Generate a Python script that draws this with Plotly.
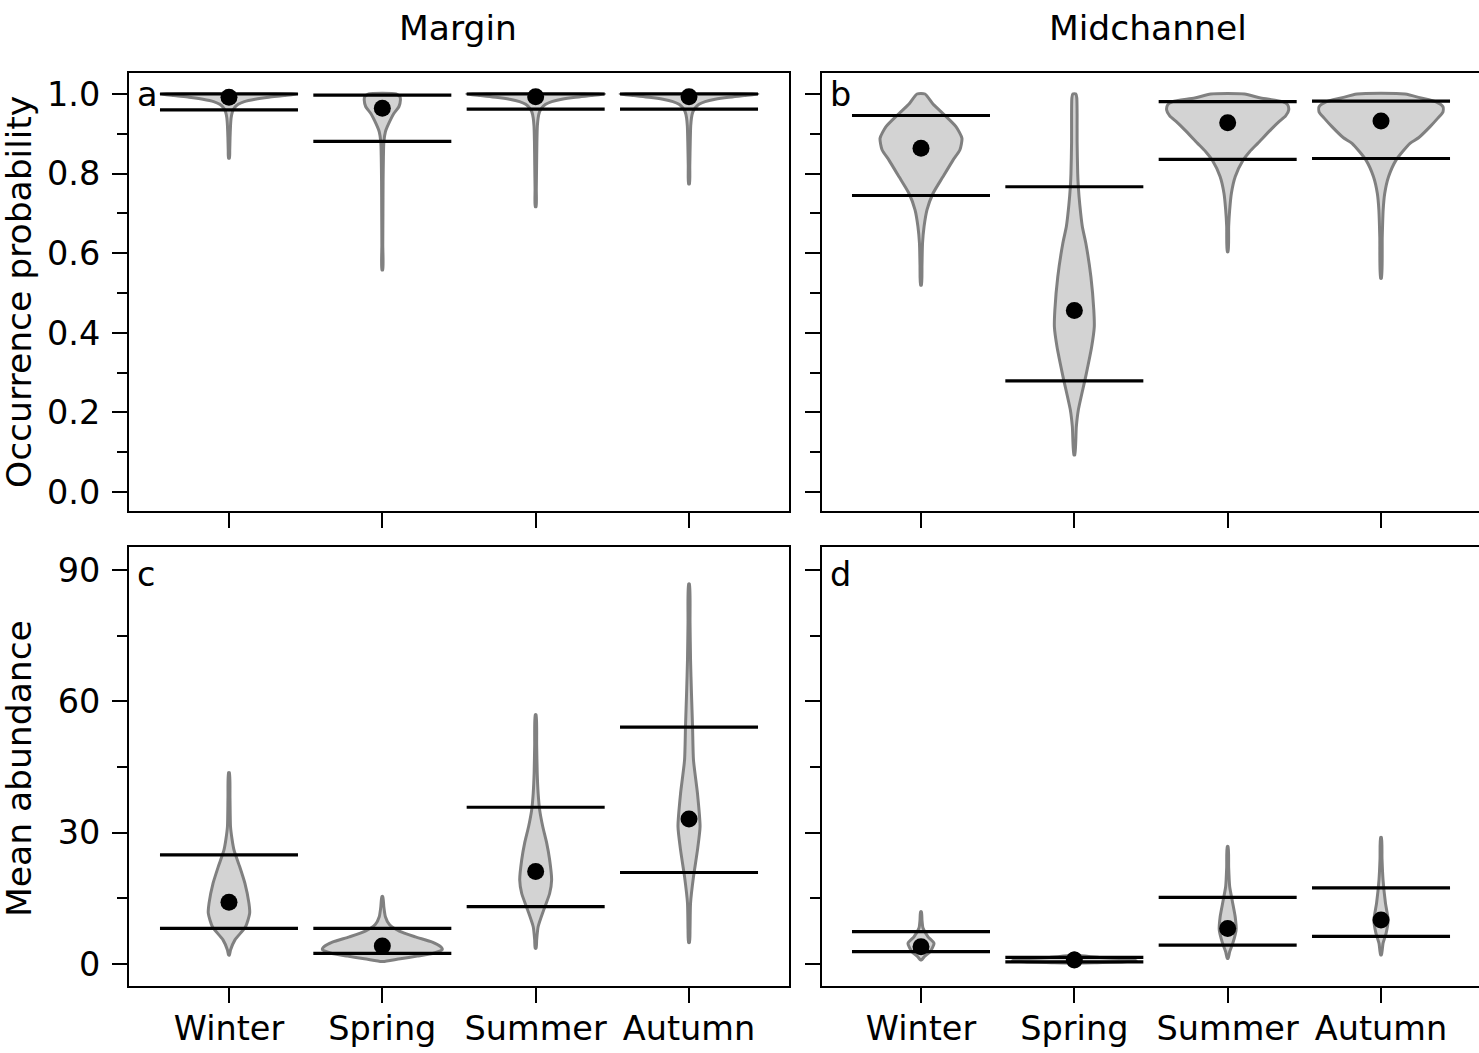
import plotly.graph_objects as go

# ---------------------------------------------------------------------------
# Data
# ---------------------------------------------------------------------------
seasons = ["Winter", "Spring", "Summer", "Autumn"]

# Posterior summaries: mean and 95% interval bounds per season
occ_margin_mean = [0.992, 0.964, 0.993, 0.993]
occ_margin_lo = [0.960, 0.881, 0.962, 0.962]
occ_margin_hi = [1.000, 0.997, 1.000, 1.000]

occ_mid_mean = [0.864, 0.456, 0.928, 0.932]
occ_mid_lo = [0.745, 0.279, 0.836, 0.838]
occ_mid_hi = [0.946, 0.767, 0.981, 0.982]

abu_margin_mean = [14.1, 4.1, 21.1, 33.1]
abu_margin_lo = [8.15, 2.44, 13.1, 20.9]
abu_margin_hi = [24.9, 8.15, 35.8, 54.1]

abu_mid_mean = [3.96, 0.91, 8.1, 10.05]
abu_mid_lo = [2.8, 0.46, 4.3, 6.3]
abu_mid_hi = [7.4, 1.52, 15.2, 17.4]

# Posterior density profiles (value level, scaled half-width) per violin
occ_margin_levels = [
    [1.0, 0.996, 0.992, 0.987, 0.981, 0.974, 0.965, 0.955, 0.94, 0.92, 0.89, 0.86, 0.839],
    [1.0, 0.993, 0.985, 0.968, 0.951, 0.926, 0.905, 0.88, 0.84, 0.78, 0.70, 0.62, 0.558],
    [1.0, 0.996, 0.992, 0.987, 0.981, 0.974, 0.965, 0.955, 0.94, 0.92, 0.88, 0.82, 0.76, 0.717],
    [1.0, 0.996, 0.992, 0.987, 0.981, 0.974, 0.965, 0.955, 0.94, 0.92, 0.88, 0.82, 0.774],
]
occ_margin_widths = [
    [0.443, 0.36, 0.26, 0.17, 0.10, 0.06, 0.035, 0.022, 0.014, 0.010, 0.007, 0.005, 0.003],
    [0.09, 0.115, 0.118, 0.108, 0.075, 0.042, 0.020, 0.010, 0.007, 0.005, 0.004, 0.003, 0.003],
    [0.45, 0.36, 0.26, 0.17, 0.105, 0.065, 0.040, 0.025, 0.016, 0.011, 0.008, 0.006, 0.004, 0.003],
    [0.45, 0.36, 0.26, 0.17, 0.105, 0.065, 0.040, 0.025, 0.016, 0.011, 0.008, 0.005, 0.003],
]

occ_mid_levels = [
    [1.0, 0.975, 0.951, 0.918, 0.889, 0.860, 0.834, 0.792, 0.750, 0.709, 0.667, 0.625, 0.57, 0.52],
    [1.0, 0.99, 0.95, 0.88, 0.80, 0.767, 0.72, 0.667, 0.625, 0.541, 0.457, 0.415, 0.365, 0.29, 0.206, 0.164, 0.093],
    [1.0, 0.99, 0.981, 0.973, 0.96, 0.945, 0.93, 0.91, 0.876, 0.855, 0.834, 0.792, 0.75, 0.709, 0.667, 0.604],
    [1.0, 0.99, 0.98, 0.968, 0.955, 0.94, 0.918, 0.89, 0.876, 0.834, 0.792, 0.75, 0.709, 0.64, 0.537],
]
occ_mid_widths = [
    [0.026, 0.078, 0.143, 0.228, 0.267, 0.254, 0.209, 0.143, 0.078, 0.039, 0.020, 0.010, 0.0065, 0.003],
    [0.010, 0.016, 0.018, 0.018, 0.022, 0.026, 0.036, 0.052, 0.075, 0.108, 0.127, 0.130, 0.113, 0.074, 0.026, 0.013, 0.003],
    [0.11, 0.215, 0.359, 0.391, 0.398, 0.378, 0.333, 0.28, 0.196, 0.143, 0.101, 0.049, 0.024, 0.013, 0.0065, 0.003],
    [0.156, 0.26, 0.359, 0.404, 0.404, 0.372, 0.32, 0.245, 0.189, 0.098, 0.049, 0.024, 0.014, 0.008, 0.003],
]

abu_margin_levels = [
    [43.7, 38.0, 31.4, 28.5, 26.0, 22.2, 18.4, 13.9, 11.6, 8.5, 5.5, 3.2, 2.06],
    [15.4, 13.0, 10.8, 9.0, 7.5, 6.2, 5.0, 4.0, 3.3, 2.5, 1.8, 1.2, 0.55],
    [56.9, 50.0, 43.6, 39.0, 35.2, 31.4, 27.6, 23.8, 19.2, 16.1, 12.3, 8.5, 5.5, 3.6],
    [86.8, 78.0, 69.4, 61.8, 54.2, 46.6, 39.0, 31.4, 26.0, 19.9, 13.9, 8.0, 4.9],
]
abu_margin_widths = [
    [0.003, 0.0065, 0.010, 0.020, 0.033, 0.070, 0.104, 0.130, 0.135, 0.108, 0.039, 0.010, 0.003],
    [0.003, 0.010, 0.020, 0.046, 0.111, 0.215, 0.326, 0.378, 0.391, 0.339, 0.228, 0.117, 0.0065],
    [0.003, 0.0065, 0.010, 0.016, 0.026, 0.046, 0.072, 0.091, 0.104, 0.091, 0.052, 0.016, 0.0065, 0.003],
    [0.003, 0.0065, 0.010, 0.016, 0.023, 0.029, 0.055, 0.072, 0.055, 0.029, 0.010, 0.0065, 0.003],
]

abu_mid_levels = [
    [11.9, 10.0, 8.2, 6.2, 4.7, 2.8, 1.7, 0.91],
    [2.6, 2.0, 1.5, 1.1, 0.8, 0.5, 0.3, 0.15],
    [26.8, 22.0, 17.7, 14.6, 10.8, 7.8, 4.7, 2.8, 1.3],
    [28.9, 24.0, 19.3, 13.9, 10.05, 7.0, 4.7, 2.1],
]
abu_mid_widths = [
    [0.003, 0.0065, 0.013, 0.046, 0.085, 0.059, 0.023, 0.003],
    [0.003, 0.033, 0.163, 0.359, 0.404, 0.326, 0.130, 0.0065],
    [0.003, 0.0065, 0.013, 0.029, 0.049, 0.055, 0.033, 0.013, 0.003],
    [0.003, 0.0065, 0.013, 0.029, 0.046, 0.033, 0.013, 0.003],
]

# ---------------------------------------------------------------------------
# Figure layout (pixel geometry of the 2x2 panel grid)
# ---------------------------------------------------------------------------
W, H = 1479, 1053
FONT = "DejaVu Sans"
TICK_FS = 33.5
TITLE_FS = 34.5
VIOLIN_FILL = "#d3d3d3"
VIOLIN_EDGE = "#808080"
CI_HALF = 0.45

def px_x(p):
    return p / W

def px_y(p):
    return 1 - p / H

fig = go.Figure()

panels = [
    # (xaxis id, yaxis id, levels, widths, mean, lo, hi)
    ("x", "y", occ_margin_levels, occ_margin_widths, occ_margin_mean, occ_margin_lo, occ_margin_hi),
    ("x2", "y2", occ_mid_levels, occ_mid_widths, occ_mid_mean, occ_mid_lo, occ_mid_hi),
    ("x3", "y3", abu_margin_levels, abu_margin_widths, abu_margin_mean, abu_margin_lo, abu_margin_hi),
    ("x4", "y4", abu_mid_levels, abu_mid_widths, abu_mid_mean, abu_mid_lo, abu_mid_hi),
]

for xa, ya, levels, widths, mean, lo, hi in panels:
    # violins
    for i in range(len(seasons)):
        lv = levels[i]
        hw = widths[i]
        xs = [i + w for w in hw] + [i - w for w in reversed(hw)] + [i + hw[0]]
        ys = list(lv) + list(reversed(lv)) + [lv[0]]
        fig.add_trace(go.Scatter(
            x=xs, y=ys, xaxis=xa, yaxis=ya, mode="lines",
            line=dict(color=VIOLIN_EDGE, width=3, shape="spline", smoothing=0.6),
            fill="toself", fillcolor=VIOLIN_FILL, hoverinfo="skip", showlegend=False,
        ))
    # interval bounds
    for i in range(len(seasons)):
        for bound in (lo[i], hi[i]):
            fig.add_trace(go.Scatter(
                x=[i - CI_HALF, i + CI_HALF], y=[bound, bound], xaxis=xa, yaxis=ya,
                mode="lines", line=dict(color="black", width=3.2),
                hoverinfo="skip", showlegend=False,
            ))
    # posterior means
    fig.add_trace(go.Scatter(
        x=list(range(len(seasons))), y=mean, xaxis=xa, yaxis=ya, mode="markers",
        marker=dict(color="black", size=17, line=dict(width=0)),
        showlegend=False,
    ))

left_dom = [px_x(129), px_x(789)]
right_dom = [px_x(822), 1.0]
top_dom = [px_y(511), px_y(73)]
bot_dom = [px_y(986), px_y(547)]

common_axis = dict(
    showline=True, linecolor="black", linewidth=2,
    showgrid=False, zeroline=False,
    ticks="outside", ticklen=15, tickwidth=2, tickcolor="black",
    tickfont=dict(family=FONT, size=TICK_FS, color="black"),
)

def xaxis(domain, rng, anchor, labels, mirror=True):
    return dict(
        common_axis, domain=domain, range=rng, anchor=anchor, mirror=mirror,
        tickmode="array", tickvals=list(range(len(seasons))), ticktext=seasons,
        showticklabels=labels, ticklabelstandoff=-3,
    )

def yaxis(domain, rng, anchor, dtick, minor_dtick, fmt, labels, mirror):
    return dict(
        common_axis, domain=domain, range=rng, anchor=anchor, mirror=mirror,
        tick0=0, dtick=dtick, tickformat=fmt, showticklabels=labels,
        ticklabelstandoff=5,
        minor=dict(ticks="outside", ticklen=10, tickwidth=2, tickcolor="black",
                   dtick=minor_dtick, tick0=0, showgrid=False),
    )

occ_range = [-0.0477, 1.0528]
abu_range = [-5.03, 95.25]
left_xrange = [-0.652, 3.652]
right_xrange = [-0.6456, 3.639]

fig.update_layout(
    width=W, height=H,
    margin=dict(l=0, r=0, t=0, b=0, pad=0),
    paper_bgcolor="white", plot_bgcolor="white",
    font=dict(family=FONT, size=TICK_FS, color="black"),
    xaxis=xaxis(left_dom, left_xrange, "y", False),
    xaxis2=xaxis(right_dom, right_xrange, "y2", False),
    xaxis3=xaxis(left_dom, left_xrange, "y3", True),
    xaxis4=xaxis(right_dom, right_xrange, "y4", True),
    yaxis=yaxis(top_dom, occ_range, "x", 0.2, 0.1, ".1f", True, True),
    yaxis2=yaxis(top_dom, occ_range, "x2", 0.2, 0.1, ".1f", False, False),
    yaxis3=yaxis(bot_dom, abu_range, "x3", 30, 15, "d", True, True),
    yaxis4=yaxis(bot_dom, abu_range, "x4", 30, 15, "d", False, False),
)

def note(text, x, y, size, xanchor="center", yanchor="middle", angle=0):
    fig.add_annotation(
        text=text, x=x, y=y, xref="paper", yref="paper",
        xanchor=xanchor, yanchor=yanchor, textangle=angle, showarrow=False,
        font=dict(family=FONT, size=size, color="black"),
    )

note("Margin", px_x(458), px_y(28), TITLE_FS)
note("Midchannel", px_x(1148), px_y(28), TITLE_FS)
note("Occurrence probability", px_x(19), px_y(292), TITLE_FS, angle=-90)
note("Mean abundance", px_x(19), px_y(769), TITLE_FS, angle=-90)
note("a", px_x(135), px_y(94), TICK_FS, xanchor="left")
note("b", px_x(828), px_y(94), TICK_FS, xanchor="left")
note("c", px_x(135), px_y(574), TICK_FS, xanchor="left")
note("d", px_x(828), px_y(574), TICK_FS, xanchor="left")

fig.write_html("out.html")
